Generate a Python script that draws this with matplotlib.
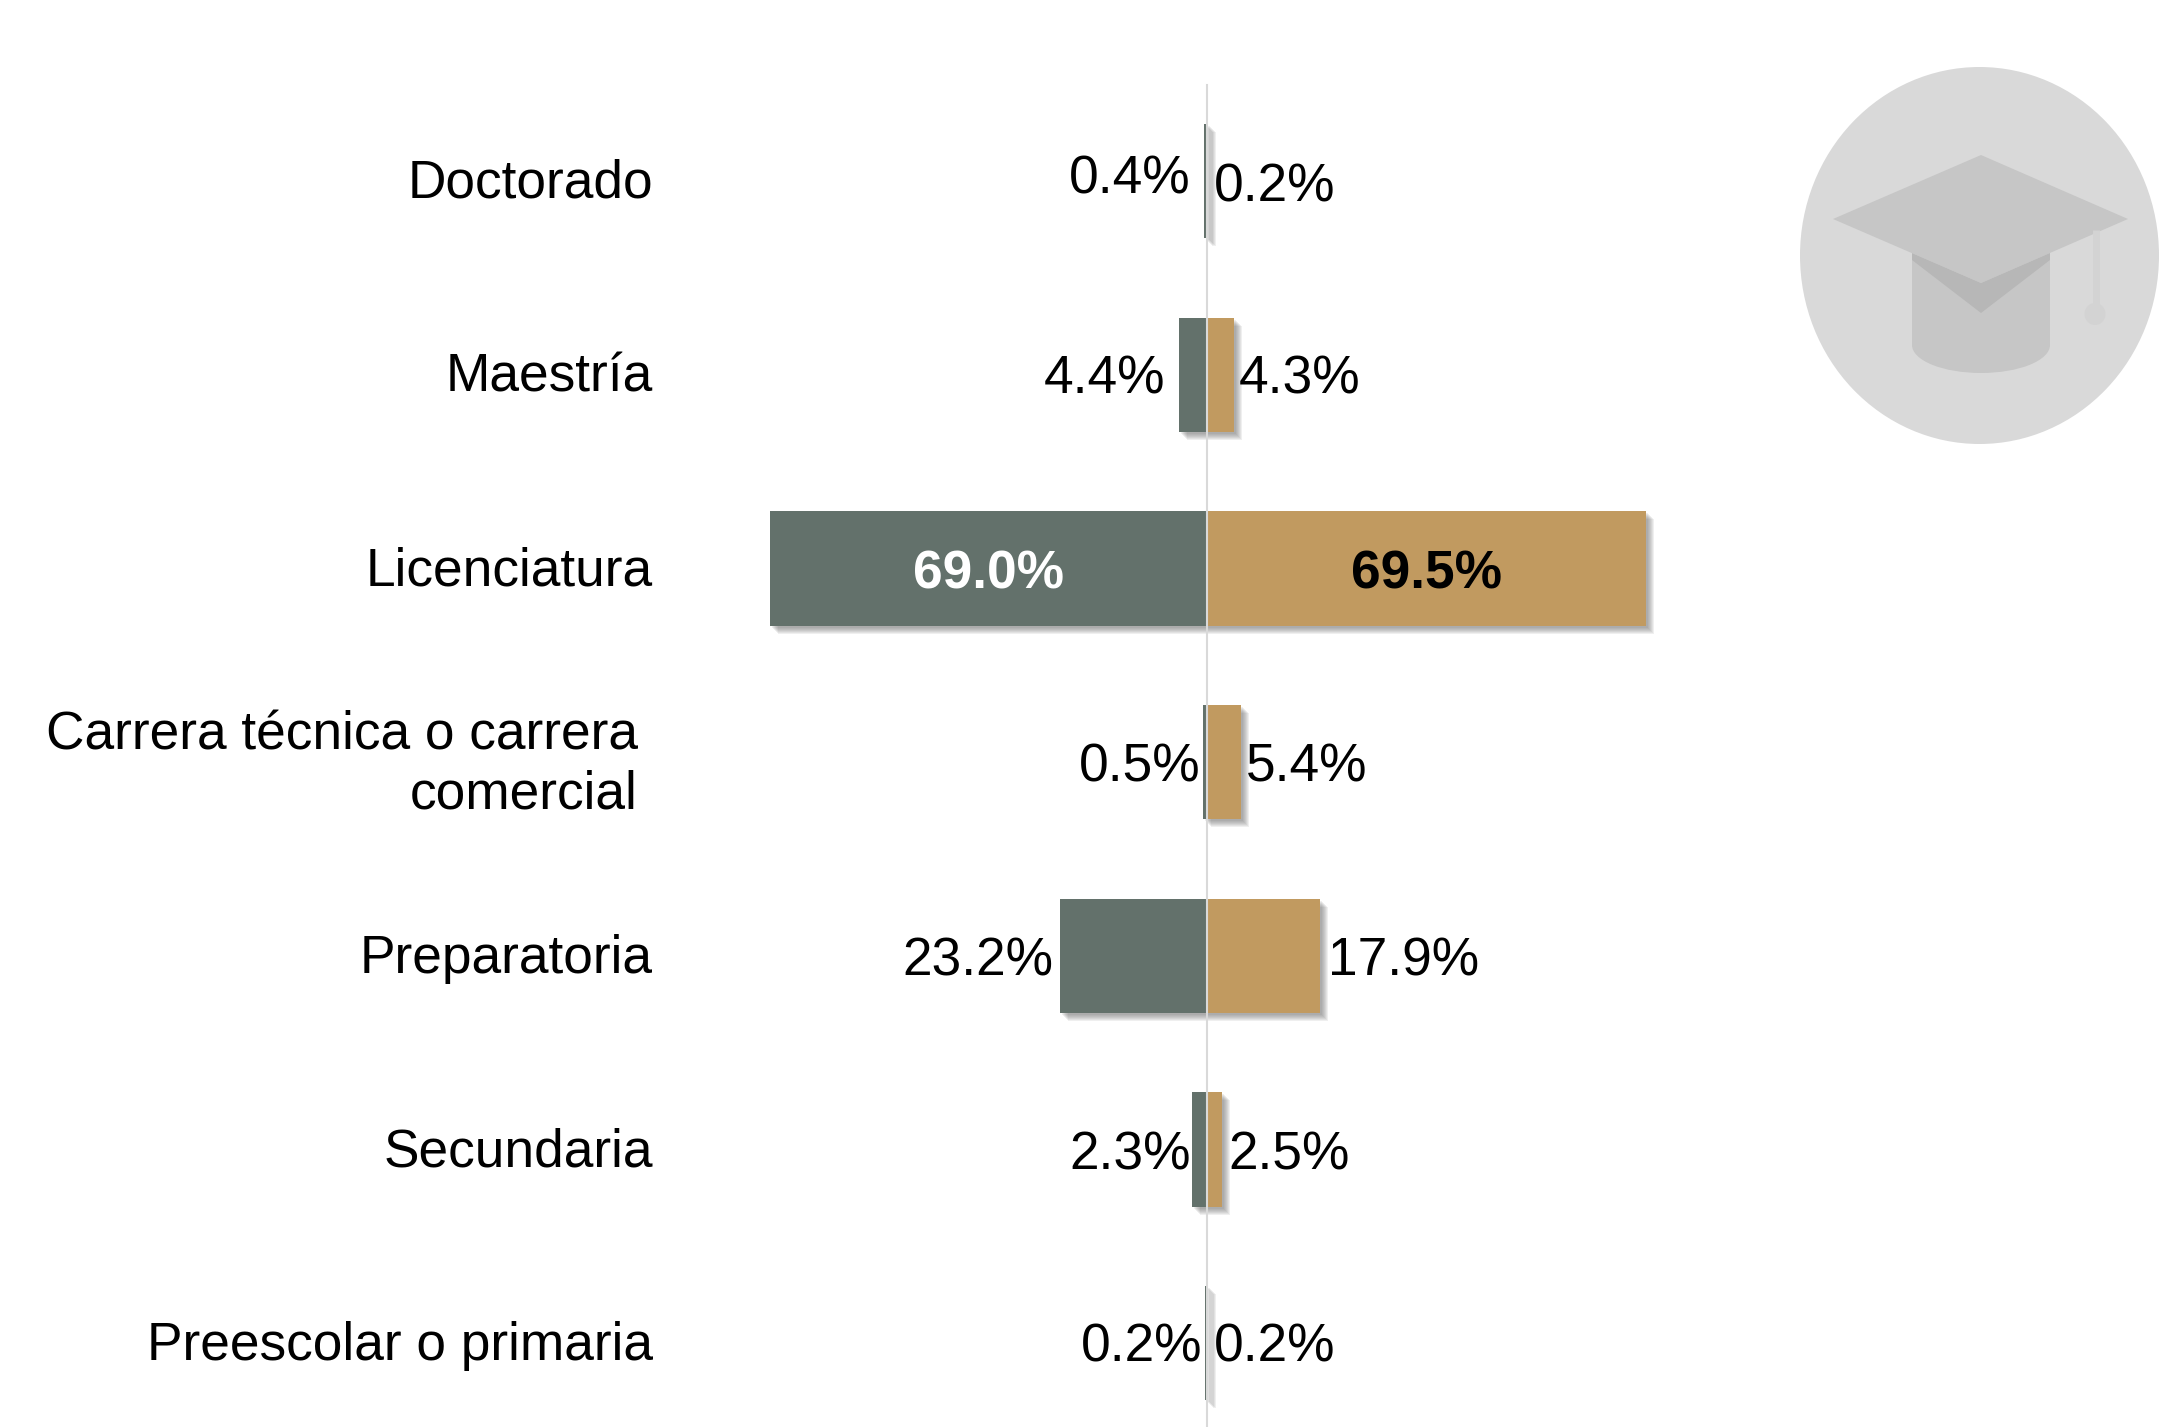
import matplotlib
matplotlib.use("Agg")
import matplotlib.pyplot as plt
import matplotlib.patheffects as pe
from matplotlib.patches import Ellipse, Polygon, Rectangle

plt.rcParams["font.family"] = ["Liberation Sans", "DejaVu Sans"]

categories = ["Doctorado", "Maestría", "Licenciatura", "Carrera técnica o carrera\ncomercial",
              "Preparatoria", "Secundaria", "Preescolar o primaria"]
left_values = [0.4, 4.4, 69.0, 0.5, 23.2, 2.3, 0.2]
right_values = [0.2, 4.3, 69.5, 5.4, 17.9, 2.5, 0.2]

GREEN = "#63716B"
TAN = "#C19A60"
LINE = "#D9D9D9"
FS = 38.3

W, H = 2167, 1427
ZERO_X = 1206.5
PX_PER_PCT = 6.33
ROW0 = 181
ROW_STEP = 193.7

# label nudges in pixels
left_gap = [13, 13, 0, 3, 6, 1, 3]
right_gap = [6, 5, 0, 5, 8, 6, 6]
left_dy = [1, -5, 0, -5, -6, -6, -4]
right_dy = [-7, -5, 0, -5, -6, -6, -4]

fig = plt.figure(figsize=(W / 100, H / 100), dpi=100, facecolor="white")
ax = fig.add_axes([0, 0, 1, 1])
ax.set_xlim(-ZERO_X / PX_PER_PCT, (W - ZERO_X) / PX_PER_PCT)
ax.set_ylim((H - ROW0) / ROW_STEP, -ROW0 / ROW_STEP)
ax.axis("off")

# soft shadow: a few offset copies with low alpha
shadow = [pe.withSimplePatchShadow(offset=(o * 0.72, -o * 0.72), shadow_rgbFace="#666666", alpha=0.1, rho=1)
          for o in (8, 7, 6, 5, 4, 3, 2)]
rows = list(range(len(categories)))
bars_l = ax.barh(rows, [-v for v in left_values], height=0.59, color=GREEN, zorder=2)
bars_r = ax.barh(rows, right_values, height=0.59, color=TAN, zorder=2)
for b in list(bars_l) + list(bars_r):
    b.set_path_effects(shadow + [pe.Normal()])

ax.axvline(0, ymin=0, ymax=1 - 85 / H, color=LINE, lw=1.5, zorder=3)

for i, cat in enumerate(categories):
    pad = 15 if "\n" in cat else 0
    ax.annotate(cat, xy=(0, i), xycoords="data", xytext=(653 - ZERO_X - pad, -3), textcoords="offset pixels",
                ha="right", va="center", ma="right", fontsize=FS, linespacing=1.22, color="black")

for i in rows:
    lv, rv = left_values[i], right_values[i]
    if i == 2:
        # the big bars carry the label inside, bold
        ax.annotate(f"{lv:.1f}%", xy=(-lv / 2, i), xytext=(0, -6), textcoords="offset pixels",
                    ha="center", va="center", fontsize=FS, fontweight="bold", color="white", zorder=4)
        ax.annotate(f"{rv:.1f}%", xy=(rv / 2, i), xytext=(0, -6), textcoords="offset pixels",
                    ha="center", va="center", fontsize=FS, fontweight="bold", color="black", zorder=4)
        continue
    ax.annotate(f"{lv:.1f}%", xy=(-lv, i), xytext=(-left_gap[i], left_dy[i]), textcoords="offset pixels",
                ha="right", va="center", fontsize=FS, color="black", zorder=4)
    ax.annotate(f"{rv:.1f}%", xy=(rv, i), xytext=(right_gap[i], right_dy[i]), textcoords="offset pixels",
                ha="left", va="center", fontsize=FS, color="black", zorder=4)

# graduation cap icon, drawn in pixel coordinates on its own axes
icon = fig.add_axes([0, 0, 1, 1], facecolor="none")
icon.set_xlim(0, W)
icon.set_ylim(H, 0)
icon.axis("off")
icon.add_patch(Ellipse((1979.5, 255.5), 359, 377, color="#D9D9D9", lw=0))
icon.add_patch(Rectangle((1912, 250), 138, 95, color="#C6C6C6", lw=0))
icon.add_patch(Ellipse((1981, 345), 138, 56, color="#C6C6C6", lw=0))
icon.add_patch(Polygon([(1912, 253), (1981, 283), (2050, 253), (2050, 260), (1981, 313), (1912, 260)],
                       color="#B7B7B7", lw=0))
icon.plot([2096, 2096], [230, 308], color="#D3D3D3", lw=5, solid_capstyle="butt")
icon.add_patch(Ellipse((2095, 314), 21, 22, color="#D3D3D3", lw=0))
icon.add_patch(Polygon([(1833, 219), (1981, 155), (2128, 219), (1981, 283)], color="#C6C6C6", lw=0))

fig.savefig("out.png", dpi=100, facecolor="white")
